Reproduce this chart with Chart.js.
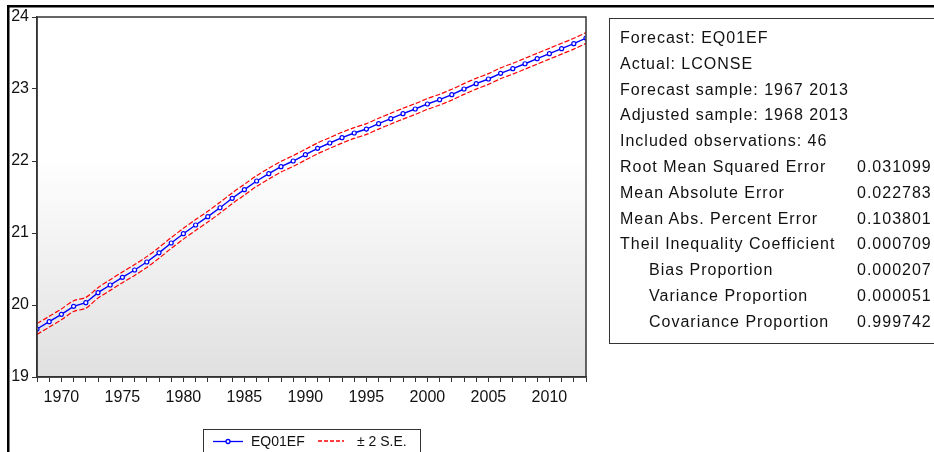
<!DOCTYPE html>
<html>
<head>
<meta charset="utf-8">
<script src="https://cdn.jsdelivr.net/npm/chart.js@4"></script>
<style>
  html, body { margin: 0; padding: 0; background: #fff; overflow: hidden; }
  #wrap { position: relative; width: 934px; height: 452px; }
  #chart { position: absolute; left: 0; top: 0; }
  #stats {
    position: absolute; left: 609px; top: 18px; width: 400px; height: 324px;
    border: 1px solid #333; font-family: Arial, "Liberation Sans", sans-serif;
    font-size: 16px; letter-spacing: 1px; color: #111;
  }
  #stats div { position: absolute; white-space: nowrap; }
</style>
</head>
<body>
<div id="wrap">
  <canvas id="chart" width="934" height="452"></canvas>
  <div id="stats"></div>
</div>
<script>
// Data
const years = [1968, 1969, 1970, 1971, 1972, 1973, 1974, 1975, 1976, 1977, 1978, 1979, 1980, 1981, 1982, 1983,
  1984, 1985, 1986, 1987, 1988, 1989, 1990, 1991, 1992, 1993, 1994, 1995, 1996, 1997, 1998, 1999, 2000, 2001,
  2002, 2003, 2004, 2005, 2006, 2007, 2008, 2009, 2010, 2011, 2012, 2013];

const forecast = [19.667, 19.768, 19.871, 19.982, 20.032, 20.171, 20.278, 20.384, 20.486, 20.597, 20.724, 20.861,
  20.990, 21.111, 21.227, 21.351, 21.482, 21.602, 21.722, 21.824, 21.921, 22.000, 22.088, 22.176, 22.250, 22.324,
  22.389, 22.444, 22.518, 22.588, 22.657, 22.722, 22.792, 22.852, 22.921, 23.000, 23.074, 23.139, 23.218, 23.282,
  23.351, 23.421, 23.490, 23.560, 23.629, 23.708];

const upperBand = [19.742, 19.843, 19.946, 20.060, 20.105, 20.240, 20.352, 20.458, 20.561, 20.672, 20.799, 20.936,
  21.065, 21.186, 21.302, 21.426, 21.557, 21.677, 21.797, 21.899, 21.996, 22.075, 22.163, 22.251, 22.325, 22.399,
  22.464, 22.519, 22.593, 22.663, 22.732, 22.797, 22.867, 22.927, 22.996, 23.075, 23.149, 23.214, 23.293, 23.357,
  23.426, 23.496, 23.565, 23.635, 23.704, 23.783];

const lowerBand = [19.592, 19.693, 19.796, 19.910, 19.955, 20.096, 20.203, 20.309, 20.411, 20.522, 20.649, 20.786,
  20.915, 21.036, 21.152, 21.276, 21.407, 21.527, 21.647, 21.749, 21.846, 21.925, 22.013, 22.101, 22.175, 22.249,
  22.314, 22.369, 22.443, 22.513, 22.582, 22.647, 22.717, 22.777, 22.846, 22.925, 22.999, 23.064, 23.143, 23.207,
  23.276, 23.346, 23.415, 23.485, 23.554, 23.633];

const statLabels = ['Forecast: EQ01EF', 'Actual: LCONSE', 'Forecast sample: 1967 2013', 'Adjusted sample: 1968 2013',
  'Included observations: 46', 'Root Mean Squared Error', 'Mean Absolute Error', 'Mean Abs. Percent Error',
  'Theil Inequality Coefficient', 'Bias Proportion', 'Variance Proportion', 'Covariance Proportion'];
const statValues = ['', '', '', '', '', '0.031099', '0.022783', '0.103801', '0.000709', '0.000207', '0.000051', '0.999742'];
const statIndent = [0, 0, 0, 0, 0, 0, 0, 0, 0, 1, 1, 1];

const BLUE = '#0000ff';
const RED = '#ff0000';
const FONT = 'Arial, "Liberation Sans", sans-serif';

// Stats table (right side)
const statsBox = document.getElementById('stats');
statLabels.forEach((txt, i) => {
  const top = 10 + i * 25.8;
  const lab = document.createElement('div');
  lab.textContent = txt;
  lab.style.left = (statIndent[i] ? 39 : 10) + 'px';
  lab.style.top = top + 'px';
  statsBox.appendChild(lab);
  if (statValues[i]) {
    const val = document.createElement('div');
    val.textContent = statValues[i];
    val.style.left = '247px';
    val.style.top = top + 'px';
    statsBox.appendChild(val);
  }
});

const pts = arr => arr.map((v, i) => ({ x: years[i], y: v }));

// background gradient + frame + outer border + legend
const decor = {
  id: 'decor',
  beforeDraw(chart) {
    const { ctx, chartArea: a } = chart;
    ctx.save();
    const g = ctx.createLinearGradient(0, a.top, 0, a.bottom);
    g.addColorStop(0, '#ffffff');
    g.addColorStop(0.38, '#ffffff');
    g.addColorStop(1, '#e0e0e0');
    ctx.fillStyle = g;
    ctx.fillRect(a.left, a.top, a.right - a.left, a.bottom - a.top);
    ctx.restore();
  },
  afterDraw(chart) {
    const { ctx, chartArea: a } = chart;
    ctx.save();
    ctx.strokeStyle = '#333';
    ctx.lineWidth = 1.5;
    ctx.strokeRect(a.left, a.top, a.right - a.left, a.bottom - a.top);

    // outer frame lines
    ctx.fillStyle = '#000';
    ctx.fillRect(7, 5, 934, 2.5);
    ctx.fillRect(7, 5, 2.5, 452);

    // legend
    ctx.strokeStyle = '#333';
    ctx.lineWidth = 1;
    ctx.strokeRect(203.5, 429.5, 217, 30);
    ctx.strokeStyle = BLUE;
    ctx.lineWidth = 1.3;
    ctx.beginPath(); ctx.moveTo(213, 441.5); ctx.lineTo(243, 441.5); ctx.stroke();
    ctx.fillStyle = '#fff';
    ctx.beginPath(); ctx.arc(228, 441.5, 2, 0, Math.PI * 2); ctx.fill(); ctx.stroke();
    ctx.strokeStyle = RED;
    ctx.lineWidth = 1.5;
    ctx.setLineDash([4, 2]);
    ctx.beginPath(); ctx.moveTo(318, 441); ctx.lineTo(344, 441); ctx.stroke();
    ctx.setLineDash([]);
    ctx.fillStyle = '#111';
    ctx.font = '14px ' + FONT;
    ctx.textBaseline = 'middle';
    ctx.fillText('EQ01EF', 251, 442);
    ctx.fillText('\u00b1 2 S.E.', 357, 442);
    ctx.restore();
  }
};

const ctx = document.getElementById('chart').getContext('2d');
const chart = new Chart(ctx, {
  type: 'line',
  data: {
    datasets: [
      { label: 'upper', data: pts(upperBand), borderColor: RED, borderWidth: 1.2, borderDash: [5, 2], pointRadius: 0, tension: 0.3, fill: false },
      { label: 'lower', data: pts(lowerBand), borderColor: RED, borderWidth: 1.2, borderDash: [5, 2], pointRadius: 0, tension: 0.3, fill: false },
      { label: 'EQ01EF', data: pts(forecast), borderColor: BLUE, borderWidth: 1.4, pointRadius: 2, pointBorderWidth: 1.2,
        pointBorderColor: BLUE, pointBackgroundColor: '#ffffff', tension: 0, fill: false }
    ]
  },
  options: {
    responsive: false,
    animation: false,
    layout: { padding: { left: 0, top: 17, right: 348, bottom: 0 } },
    plugins: { legend: { display: false }, tooltip: { enabled: false } },
    scales: {
      x: {
        type: 'linear', min: 1968, max: 2013,
        afterFit: s => { s.height = 75; },
        grid: { drawOnChartArea: false, drawTicks: true, tickLength: 5, color: '#333', lineWidth: 1 },
        border: { display: true, color: '#333', width: 1.5 },
        ticks: {
          stepSize: 1, autoSkip: false, maxRotation: 0, padding: 6, color: '#111',
          font: { family: FONT, size: 16 },
          callback: v => (v % 5 === 0 ? String(v) : '')
        }
      },
      y: {
        min: 19, max: 24,
        afterFit: s => { s.width = 37; },
        grid: { drawOnChartArea: false, drawTicks: true, tickLength: 5, color: '#333', lineWidth: 1 },
        border: { display: true, color: '#333', width: 1.5 },
        ticks: { stepSize: 1, padding: 3, color: '#111', font: { family: FONT, size: 16 } }
      }
    }
  },
  plugins: [decor]
});
</script>
</body>
</html>
